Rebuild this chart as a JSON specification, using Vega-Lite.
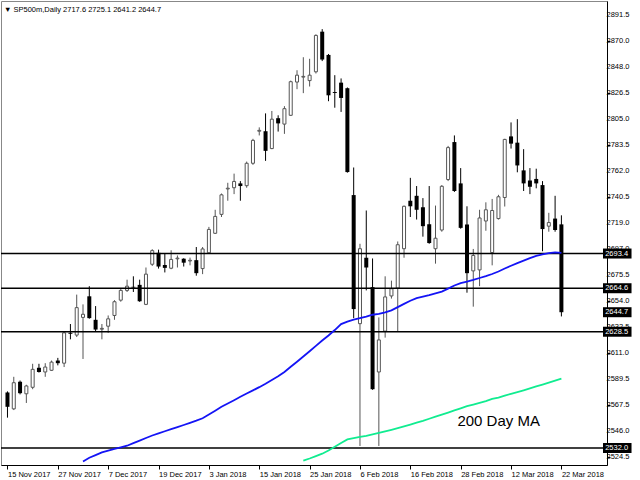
{
"$schema": "https://vega.github.io/schema/vega-lite/v6.json",
"width": 606, "height": 464,
"autosize": {"type": "none"},
"padding": {"left": 1, "top": 1, "right": 33, "bottom": 15},
"background": "white",
"config": {"view": {"stroke": "#888888", "strokeWidth": 1}, "font": "Liberation Sans", "axis": {"labelOverlap": false, "labelBound": false, "labelFlush": false}},
"title": {"text": "▼ SP500m,Daily  2717.6 2725.1 2641.2 2644.7", "anchor": "start", "frame": "group", "orient": "top", "offset": -12, "dx": 3, "fontSize": 7.5, "fontWeight": "normal", "font": "Liberation Sans", "color": "black"},
"datasets": {
"bars": [
{"i":0,"d":"15 Nov 2017","o":2578.1,"h":2579.0,"l":2557.2,"c":2566.2},
{"i":1,"d":"16 Nov 2017","o":2564.5,"h":2591.1,"l":2563.5,"c":2586.2},
{"i":2,"d":"17 Nov 2017","o":2587.0,"h":2588.0,"l":2576.5,"c":2577.5},
{"i":3,"d":"20 Nov 2017","o":2577.0,"h":2584.5,"l":2569.4,"c":2583.5},
{"i":4,"d":"21 Nov 2017","o":2582.4,"h":2601.9,"l":2580.8,"c":2597.3},
{"i":5,"d":"22 Nov 2017","o":2598.6,"h":2601.9,"l":2594.6,"c":2595.1},
{"i":6,"d":"23 Nov 2017","o":2595.1,"h":2602.4,"l":2591.1,"c":2599.2},
{"i":7,"d":"24 Nov 2017","o":2596.5,"h":2604.6,"l":2595.9,"c":2603.3},
{"i":8,"d":"27 Nov 2017","o":2604.6,"h":2606.8,"l":2600.6,"c":2602.4},
{"i":9,"d":"28 Nov 2017","o":2602.4,"h":2629.0,"l":2599.2,"c":2627.6},
{"i":10,"d":"29 Nov 2017","o":2627.6,"h":2634.9,"l":2622.2,"c":2626.8},
{"i":11,"d":"30 Nov 2017","o":2625.7,"h":2659.3,"l":2624.1,"c":2648.5},
{"i":12,"d":"1 Dec 2017","o":2640.4,"h":2651.2,"l":2605.9,"c":2643.0},
{"i":13,"d":"4 Dec 2017","o":2657.9,"h":2666.3,"l":2639.3,"c":2639.8},
{"i":14,"d":"5 Dec 2017","o":2638.4,"h":2649.8,"l":2629.0,"c":2630.3},
{"i":15,"d":"6 Dec 2017","o":2630.6,"h":2634.9,"l":2622.2,"c":2631.3},
{"i":16,"d":"7 Dec 2017","o":2633.1,"h":2642.0,"l":2627.6,"c":2639.2},
{"i":17,"d":"8 Dec 2017","o":2642.0,"h":2654.7,"l":2638.4,"c":2653.4},
{"i":18,"d":"11 Dec 2017","o":2654.7,"h":2664.2,"l":2653.4,"c":2662.8},
{"i":19,"d":"12 Dec 2017","o":2662.8,"h":2671.7,"l":2661.5,"c":2666.3},
{"i":20,"d":"13 Dec 2017","o":2665.8,"h":2674.5,"l":2661.5,"c":2665.2},
{"i":21,"d":"14 Dec 2017","o":2667.4,"h":2671.7,"l":2653.3,"c":2653.8},
{"i":22,"d":"15 Dec 2017","o":2651.2,"h":2681.8,"l":2650.6,"c":2676.3},
{"i":23,"d":"18 Dec 2017","o":2684.5,"h":2697.0,"l":2683.1,"c":2695.8},
{"i":24,"d":"19 Dec 2017","o":2694.0,"h":2696.6,"l":2680.9,"c":2682.6},
{"i":25,"d":"20 Dec 2017","o":2683.9,"h":2693.4,"l":2677.7,"c":2681.5},
{"i":26,"d":"21 Dec 2017","o":2681.2,"h":2696.1,"l":2680.4,"c":2688.5},
{"i":27,"d":"22 Dec 2017","o":2689.0,"h":2691.8,"l":2681.8,"c":2689.6},
{"i":28,"d":"27 Dec 2017","o":2689.1,"h":2689.5,"l":2682.6,"c":2685.8},
{"i":29,"d":"28 Dec 2017","o":2687.2,"h":2690.0,"l":2683.6,"c":2687.8},
{"i":30,"d":"29 Dec 2017","o":2687.9,"h":2698.8,"l":2675.0,"c":2677.1},
{"i":31,"d":"2 Jan 2018","o":2680.9,"h":2698.8,"l":2676.3,"c":2697.2},
{"i":32,"d":"3 Jan 2018","o":2694.0,"h":2715.5,"l":2693.0,"c":2713.4},
{"i":33,"d":"4 Jan 2018","o":2710.2,"h":2729.7,"l":2709.6,"c":2724.2},
{"i":34,"d":"5 Jan 2018","o":2725.9,"h":2743.2,"l":2723.7,"c":2742.1},
{"i":35,"d":"8 Jan 2018","o":2747.0,"h":2752.1,"l":2737.2,"c":2747.6},
{"i":36,"d":"9 Jan 2018","o":2748.0,"h":2759.7,"l":2742.7,"c":2753.2},
{"i":37,"d":"10 Jan 2018","o":2751.6,"h":2753.5,"l":2737.2,"c":2749.4},
{"i":38,"d":"11 Jan 2018","o":2749.7,"h":2769.7,"l":2748.0,"c":2768.3},
{"i":39,"d":"12 Jan 2018","o":2768.3,"h":2788.6,"l":2767.0,"c":2787.3},
{"i":40,"d":"15 Jan 2018","o":2794.9,"h":2798.1,"l":2791.4,"c":2795.6},
{"i":41,"d":"16 Jan 2018","o":2794.9,"h":2809.7,"l":2770.3,"c":2778.6},
{"i":42,"d":"17 Jan 2018","o":2780.5,"h":2811.7,"l":2780.0,"c":2804.9},
{"i":43,"d":"18 Jan 2018","o":2805.7,"h":2808.1,"l":2794.6,"c":2801.4},
{"i":44,"d":"19 Jan 2018","o":2800.8,"h":2815.7,"l":2792.7,"c":2813.6},
{"i":45,"d":"22 Jan 2018","o":2808.1,"h":2836.9,"l":2807.6,"c":2836.0},
{"i":46,"d":"23 Jan 2018","o":2835.7,"h":2845.5,"l":2829.8,"c":2841.4},
{"i":47,"d":"24 Jan 2018","o":2839.8,"h":2856.3,"l":2826.5,"c":2840.4},
{"i":48,"d":"25 Jan 2018","o":2836.9,"h":2855.0,"l":2832.0,"c":2841.4},
{"i":49,"d":"26 Jan 2018","o":2844.2,"h":2875.3,"l":2842.8,"c":2874.4},
{"i":50,"d":"29 Jan 2018","o":2877.5,"h":2879.6,"l":2853.1,"c":2854.4},
{"i":51,"d":"30 Jan 2018","o":2858.2,"h":2859.0,"l":2819.8,"c":2824.7},
{"i":52,"d":"31 Jan 2018","o":2827.4,"h":2841.4,"l":2814.4,"c":2826.6},
{"i":53,"d":"1 Feb 2018","o":2835.2,"h":2838.7,"l":2810.9,"c":2822.5},
{"i":54,"d":"2 Feb 2018","o":2830.6,"h":2831.2,"l":2760.5,"c":2761.0},
{"i":55,"d":"5 Feb 2018","o":2741.9,"h":2764.8,"l":2639.8,"c":2647.3},
{"i":56,"d":"6 Feb 2018","o":2635.2,"h":2701.5,"l":2533.7,"c":2697.4},
{"i":57,"d":"7 Feb 2018","o":2689.9,"h":2729.1,"l":2662.8,"c":2681.8},
{"i":58,"d":"8 Feb 2018","o":2665.5,"h":2689.3,"l":2580.3,"c":2580.8},
{"i":59,"d":"9 Feb 2018","o":2595.1,"h":2640.4,"l":2533.7,"c":2621.7},
{"i":60,"d":"12 Feb 2018","o":2629.0,"h":2674.5,"l":2623.6,"c":2657.4},
{"i":61,"d":"13 Feb 2018","o":2658.2,"h":2670.9,"l":2656.0,"c":2664.2},
{"i":62,"d":"14 Feb 2018","o":2664.7,"h":2703.4,"l":2629.0,"c":2700.7},
{"i":63,"d":"15 Feb 2018","o":2697.4,"h":2733.2,"l":2689.9,"c":2732.6},
{"i":64,"d":"16 Feb 2018","o":2737.2,"h":2756.2,"l":2723.7,"c":2732.6},
{"i":65,"d":"19 Feb 2018","o":2741.3,"h":2749.4,"l":2721.6,"c":2729.7},
{"i":66,"d":"20 Feb 2018","o":2731.8,"h":2739.4,"l":2707.4,"c":2716.1},
{"i":67,"d":"21 Feb 2018","o":2717.7,"h":2749.4,"l":2701.5,"c":2702.1},
{"i":68,"d":"22 Feb 2018","o":2697.4,"h":2733.2,"l":2685.0,"c":2706.1},
{"i":69,"d":"23 Feb 2018","o":2712.9,"h":2750.2,"l":2711.5,"c":2749.2},
{"i":70,"d":"26 Feb 2018","o":2754.8,"h":2782.7,"l":2753.5,"c":2781.3},
{"i":71,"d":"27 Feb 2018","o":2785.9,"h":2791.4,"l":2744.5,"c":2745.3},
{"i":72,"d":"28 Feb 2018","o":2751.6,"h":2764.3,"l":2714.0,"c":2714.7},
{"i":73,"d":"1 Mar 2018","o":2717.5,"h":2732.6,"l":2660.9,"c":2677.1},
{"i":74,"d":"2 Mar 2018","o":2679.0,"h":2697.2,"l":2649.3,"c":2691.8},
{"i":75,"d":"5 Mar 2018","o":2679.8,"h":2729.7,"l":2666.3,"c":2722.9},
{"i":76,"d":"6 Mar 2018","o":2720.4,"h":2735.9,"l":2712.3,"c":2729.7},
{"i":77,"d":"7 Mar 2018","o":2694.2,"h":2738.7,"l":2683.6,"c":2729.1},
{"i":78,"d":"8 Mar 2018","o":2722.4,"h":2742.1,"l":2721.6,"c":2740.5},
{"i":79,"d":"9 Mar 2018","o":2739.9,"h":2788.6,"l":2732.4,"c":2788.1},
{"i":80,"d":"12 Mar 2018","o":2790.6,"h":2802.2,"l":2780.5,"c":2784.6},
{"i":81,"d":"13 Mar 2018","o":2785.4,"h":2804.9,"l":2760.8,"c":2766.5},
{"i":82,"d":"14 Mar 2018","o":2762.4,"h":2780.0,"l":2745.3,"c":2751.6},
{"i":83,"d":"15 Mar 2018","o":2754.0,"h":2764.3,"l":2742.7,"c":2748.8},
{"i":84,"d":"16 Mar 2018","o":2755.3,"h":2763.8,"l":2747.5,"c":2751.6},
{"i":85,"d":"19 Mar 2018","o":2750.2,"h":2753.5,"l":2695.3,"c":2713.7},
{"i":86,"d":"20 Mar 2018","o":2716.1,"h":2727.2,"l":2711.5,"c":2719.1},
{"i":87,"d":"21 Mar 2018","o":2722.4,"h":2741.3,"l":2711.5,"c":2712.9},
{"i":88,"d":"22 Mar 2018","o":2717.6,"h":2725.1,"l":2641.2,"c":2644.7}
],
"ma100": [
{"i":12,"v":2520.8},{"i":13,"v":2523.9},{"i":14,"v":2526.1},{"i":15,"v":2528.4},{"i":16,"v":2529.9},{"i":17,"v":2531.2},{"i":18,"v":2532.5},{"i":19,"v":2533.9},{"i":20,"v":2536.0},{"i":21,"v":2538.1},{"i":22,"v":2540.3},{"i":23,"v":2542.4},{"i":24,"v":2544.1},{"i":25,"v":2545.9},{"i":26,"v":2547.6},{"i":27,"v":2549.3},{"i":28,"v":2551.1},{"i":29,"v":2552.9},{"i":30,"v":2554.7},{"i":31,"v":2556.7},{"i":32,"v":2559.8},{"i":33,"v":2563.0},{"i":34,"v":2566.2},{"i":35,"v":2569.0},{"i":36,"v":2571.7},{"i":37,"v":2574.5},{"i":38,"v":2577.2},{"i":39,"v":2579.8},{"i":40,"v":2582.5},{"i":41,"v":2585.4},{"i":42,"v":2588.5},{"i":43,"v":2591.5},{"i":44,"v":2595.1},{"i":45,"v":2599.4},{"i":46,"v":2603.6},{"i":47,"v":2607.9},{"i":48,"v":2612.3},{"i":49,"v":2616.8},{"i":50,"v":2621.2},{"i":51,"v":2625.4},{"i":52,"v":2629.9},{"i":53,"v":2634.8},{"i":54,"v":2636.9},{"i":55,"v":2638.5},{"i":56,"v":2639.8},{"i":57,"v":2641.0},{"i":58,"v":2642.6},{"i":59,"v":2643.3},{"i":60,"v":2644.6},{"i":61,"v":2646.2},{"i":62,"v":2648.9},{"i":63,"v":2651.6},{"i":64,"v":2654.2},{"i":65,"v":2656.4},{"i":66,"v":2657.7},{"i":67,"v":2658.9},{"i":68,"v":2660.3},{"i":69,"v":2661.8},{"i":70,"v":2664.3},{"i":71,"v":2666.9},{"i":72,"v":2668.9},{"i":73,"v":2670.1},{"i":74,"v":2671.5},{"i":75,"v":2673.1},{"i":76,"v":2674.6},{"i":77,"v":2676.4},{"i":78,"v":2678.5},{"i":79,"v":2681.0},{"i":80,"v":2683.3},{"i":81,"v":2685.5},{"i":82,"v":2687.5},{"i":83,"v":2689.6},{"i":84,"v":2691.4},{"i":85,"v":2692.7},{"i":86,"v":2693.7},{"i":87,"v":2694.4},{"i":88,"v":2694.0}
],
"ma200": [
{"i":47,"v":2521.5},{"i":48,"v":2523.3},{"i":49,"v":2525.3},{"i":50,"v":2527.3},{"i":51,"v":2529.9},{"i":52,"v":2533.0},{"i":53,"v":2536.2},{"i":54,"v":2539.2},{"i":55,"v":2540.2},{"i":56,"v":2541.2},{"i":57,"v":2542.1},{"i":58,"v":2543.3},{"i":59,"v":2544.5},{"i":60,"v":2545.8},{"i":61,"v":2547.1},{"i":62,"v":2548.5},{"i":63,"v":2550.0},{"i":64,"v":2551.5},{"i":65,"v":2553.1},{"i":66,"v":2554.6},{"i":67,"v":2556.3},{"i":68,"v":2558.0},{"i":69,"v":2559.7},{"i":70,"v":2561.4},{"i":71,"v":2563.2},{"i":72,"v":2564.9},{"i":73,"v":2566.7},{"i":74,"v":2568.1},{"i":75,"v":2569.5},{"i":76,"v":2570.9},{"i":77,"v":2572.7},{"i":78,"v":2573.9},{"i":79,"v":2575.5},{"i":80,"v":2577.0},{"i":81,"v":2578.4},{"i":82,"v":2579.9},{"i":83,"v":2581.5},{"i":84,"v":2583.1},{"i":85,"v":2584.7},{"i":86,"v":2586.3},{"i":87,"v":2587.9},{"i":88,"v":2589.5}
],
"levels": [{"p":2693.4},{"p":2664.6},{"p":2628.5},{"p":2532.0}],
"tags": [{"p":2693.4},{"p":2664.6},{"p":2644.7},{"p":2628.5},{"p":2532.0}],
"yticks": [{"t":2891.5},{"t":2870.0},{"t":2848.0},{"t":2826.5},{"t":2805.0},{"t":2783.5},{"t":2762.0},{"t":2740.5},{"t":2719.0},{"t":2697.0},{"t":2675.5},{"t":2654.0},{"t":2632.5},{"t":2611.0},{"t":2589.5},{"t":2567.5},{"t":2546.0},{"t":2524.5}]
},
"layer": [
{
"data": {"name": "bars"},
"mark": {"type": "rule", "strokeWidth": 1},
"encoding": {
"x": {"field": "i", "type": "quantitative", "scale": {"domain": [-0.234, 94.45], "nice": false, "zero": false},
"axis": {"orient": "bottom", "values": [0,8,16,24,32,40,48,56,64,72,80,88],
"labelExpr": "['15 Nov 2017','27 Nov 2017','7 Dec 2017','19 Dec 2017','3 Jan 2018','15 Jan 2018','25 Jan 2018','6 Feb 2018','16 Feb 2018','28 Feb 2018','12 Mar 2018','22 Mar 2018'][round(datum.value/8)]",
"labelAlign": "left", "labelDx": 1, "labelPadding": 1, "tickSize": 4, "grid": false, "title": null,
"domainColor": "black", "tickColor": "black", "labelColor": "black", "labelFontSize": 7.5, "labelFont": "Liberation Sans",
"labelOverlap": false, "labelBound": false, "labelFlush": false}},
"y": {"field": "l", "type": "quantitative", "scale": {"domain": [2522.06, 2898.81], "nice": false, "zero": false},
"axis": {"orient": "right", "values": [2891.5,2870.0,2848.0,2826.5,2805.0,2783.5,2762.0,2740.5,2719.0,2697.0,2675.5,2654.0,2632.5,2611.0,2589.5,2567.5,2546.0,2524.5],
"labels": false, "tickSize": 3, "grid": false, "title": null,
"domainColor": "black", "tickColor": "black"}},
"y2": {"field": "h"},
"color": {"condition": {"test": "datum.c >= datum.o", "value": "#555555"}, "value": "black"}
}
},
{
"data": {"name": "bars"},
"transform": [{"filter": "datum.c < datum.o"}],
"mark": {"type": "bar", "width": 4, "fill": "black", "stroke": "black", "strokeWidth": 0},
"encoding": {
"x": {"field": "i", "type": "quantitative"},
"y": {"field": "o", "type": "quantitative"},
"y2": {"field": "c"}
}
},
{
"data": {"name": "bars"},
"transform": [{"filter": "datum.c >= datum.o"}],
"mark": {"type": "bar", "width": 3, "fill": "white", "stroke": "#555555", "strokeWidth": 1},
"encoding": {
"x": {"field": "i", "type": "quantitative"},
"y": {"field": "o", "type": "quantitative"},
"y2": {"field": "c"}
}
},
{
"data": {"name": "levels"},
"mark": {"type": "rule", "color": "black", "strokeWidth": 1.5},
"encoding": {"y": {"field": "p", "type": "quantitative"}}
},
{
"data": {"name": "ma100"},
"mark": {"type": "line", "color": "#1414F5", "strokeWidth": 1.8, "clip": true},
"encoding": {"x": {"field": "i", "type": "quantitative"}, "y": {"field": "v", "type": "quantitative"}}
},
{
"data": {"name": "ma200"},
"mark": {"type": "line", "color": "#10EC90", "strokeWidth": 1.8, "clip": true},
"encoding": {"x": {"field": "i", "type": "quantitative"}, "y": {"field": "v", "type": "quantitative"}}
},
{
"data": {"name": "yticks"},
"mark": {"type": "text", "align": "left", "baseline": "middle", "color": "black", "fontSize": 7.5, "font": "Liberation Sans", "clip": false},
"encoding": {"x": {"datum": 95.16}, "y": {"field": "t", "type": "quantitative"}, "text": {"field": "t", "type": "quantitative", "format": ".1f"}}
},
{
"data": {"name": "tags"},
"mark": {"type": "bar", "orient": "horizontal", "size": 10, "fill": "black", "clip": false},
"encoding": {"x": {"datum": 94.61}, "x2": {"datum": 99.14}, "y": {"field": "p", "type": "quantitative"}}
},
{
"data": {"name": "tags"},
"mark": {"type": "text", "align": "left", "baseline": "middle", "color": "white", "fontSize": 7.5, "font": "Liberation Sans", "clip": false},
"encoding": {"x": {"datum": 94.95}, "y": {"field": "p", "type": "quantitative"}, "text": {"field": "p", "type": "quantitative", "format": ".1f"}}
},
{
"data": {"values": [{"label": "200 Day MA"}]},
"mark": {"type": "text", "align": "left", "baseline": "middle", "color": "black", "fontSize": 15, "font": "Liberation Sans"},
"encoding": {"x": {"datum": 71.48}, "y": {"datum": 2554.5}, "text": {"field": "label", "type": "nominal"}}
}
]
}
